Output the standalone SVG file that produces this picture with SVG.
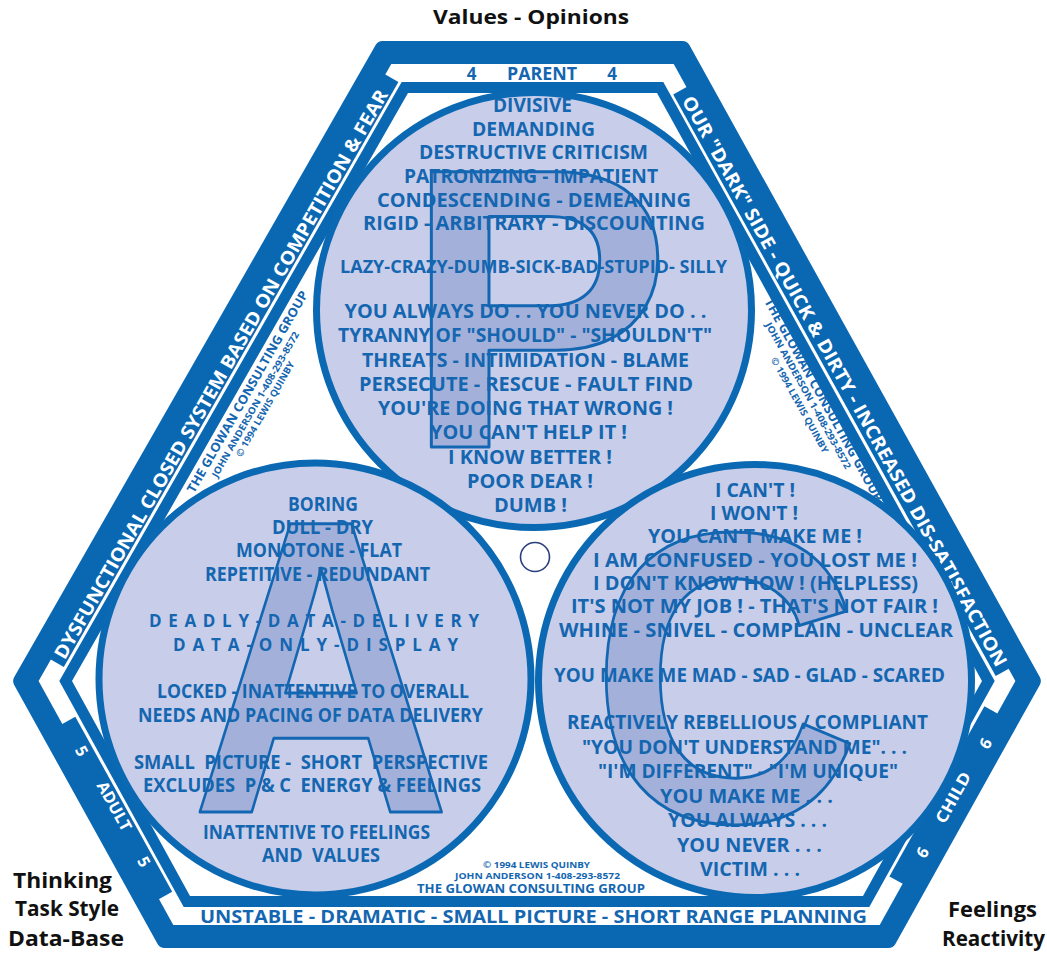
<svg xmlns="http://www.w3.org/2000/svg" width="1047" height="953" viewBox="0 0 1047 953">
<style>
.band{fill:#0a68b3}
.bandr{fill:#0a68b3;stroke:#0a68b3;stroke-width:16;stroke-linejoin:round}
.t{font-family:"Open Sans","Liberation Sans",sans-serif;font-weight:700;fill:#1466b0;text-anchor:middle}
.w{font-family:"Open Sans","Liberation Sans",sans-serif;font-weight:700;fill:#ffffff;text-anchor:middle}
.k{font-family:"Open Sans","Liberation Sans",sans-serif;font-weight:700;fill:#111111}
.circ{fill:#c8cde9;stroke:#0b69b3;stroke-width:7}
.big{font-family:"Liberation Sans",Arial,sans-serif;font-weight:700;fill:#a3b1da;stroke:#1367b2;stroke-width:3;stroke-linejoin:round;text-anchor:middle}
.m{font-size:19.5px}
</style>
<g id="frame">
<path class="bandr" d="M382.6,49 L682.4,49 L1032.8,681 L888.4,940 L164.6,940 L21.2,681 Z"/>
<path fill="#ffffff" d="M391.3,64 L673.7,64 L1015.4,681 L879.7,925 L173.3,925 L38.6,681 Z"/>
<path class="band" d="M48.2,657.9 L63.8,666.9 L398.4,81.9 L382.8,72.9 Z"/>
<path class="band" d="M688.9,85.7 L673.2,94.4 L995.7,675.9 L1011.4,667.2 Z"/>
<path class="band" d="M57.8,726.5 L75.3,716.8 L172.2,891.7 L154.7,901.4 Z"/>
<path class="band" d="M1001.9,715.9 L984.4,706.2 L889.4,876.4 L906.9,886.1 Z"/>
<path class="band" fill-rule="evenodd" d="M401.7,82 L663.3,82 L994.7,681 L869.3,907 L183.7,907 L59.3,681 Z M408,93 L657,93 L982,681 L863,896 L190,896 L72,681 Z"/>
</g>
<g id="connectors"></g>
<g id="edge-labels">
<text class="t" x="471.5" y="80" font-size="17">4</text>
<text class="t" x="542" y="80" font-size="17" textLength="70" lengthAdjust="spacingAndGlyphs">PARENT</text>
<text class="t" x="612" y="80" font-size="17">4</text>
<text class="t" x="533.5" y="923" font-size="18" textLength="667" lengthAdjust="spacingAndGlyphs">UNSTABLE - DRAMATIC - SMALL PICTURE - SHORT RANGE PLANNING</text>
<text class="w" transform="translate(220.9,374.2) rotate(-60.24)" x="0" y="6.6" font-size="18.5" textLength="652" lengthAdjust="spacingAndGlyphs">DYSFUNCTIONAL CLOSED SYSTEM BASED ON COMPETITION &amp; FEAR</text>
<text class="w" transform="translate(844.8,381.1) rotate(60.98)" x="0" y="6.6" font-size="18.5" textLength="649" lengthAdjust="spacingAndGlyphs">OUR "DARK" SIDE - QUICK &amp; DIRTY - INCREASED DIS-SATISFACTION</text>
<text class="w" transform="translate(81.7,751) rotate(61)" x="0" y="5.8" font-size="16">5</text>
<text class="w" transform="translate(114.5,806) rotate(61)" x="0" y="5.8" font-size="16" textLength="54" lengthAdjust="spacingAndGlyphs">ADULT</text>
<text class="w" transform="translate(144.1,861.6) rotate(61)" x="0" y="5.8" font-size="16">5</text>
<text class="w" transform="translate(985.4,743.4) rotate(-60.8)" x="0" y="5.8" font-size="16">6</text>
<text class="w" transform="translate(953,797.4) rotate(-60.8)" x="0" y="5.8" font-size="16" textLength="56" lengthAdjust="spacingAndGlyphs">CHILD</text>
<text class="w" transform="translate(922.3,852.4) rotate(-60.8)" x="0" y="5.8" font-size="16">6</text>
<text class="t" transform="translate(247.3,391.7) rotate(-60.24)" x="0" y="4.5" font-size="12.5" textLength="230" lengthAdjust="spacingAndGlyphs">THE GLOWAN CONSULTING GROUP</text>
<text class="t" transform="translate(255.4,404.4) rotate(-60.24)" x="0" y="3.4" font-size="9.5" textLength="166" lengthAdjust="spacingAndGlyphs">JOHN ANDERSON 1-408-293-8572</text>
<text class="t" transform="translate(265,409.1) rotate(-60.24)" x="0" y="3.4" font-size="9.5" textLength="108" lengthAdjust="spacingAndGlyphs">© 1994 LEWIS QUINBY</text>
<text class="t" transform="translate(823.7,399.7) rotate(60.98)" x="0" y="4.5" font-size="12.5" textLength="230" lengthAdjust="spacingAndGlyphs">THE GLOWAN CONSULTING GROUP</text>
<text class="t" transform="translate(808.3,395.7) rotate(60.98)" x="0" y="3.4" font-size="9.5" textLength="166" lengthAdjust="spacingAndGlyphs">JOHN ANDERSON 1-408-293-8572</text>
<text class="t" transform="translate(799.7,405) rotate(60.98)" x="0" y="3.4" font-size="9.5" textLength="108" lengthAdjust="spacingAndGlyphs">© 1994 LEWIS QUINBY</text>
<text class="t" x="536.5" y="868" font-size="9.5" textLength="107" lengthAdjust="spacingAndGlyphs">© 1994 LEWIS QUINBY</text>
<text class="t" x="537.5" y="879" font-size="9.5" textLength="165" lengthAdjust="spacingAndGlyphs">JOHN ANDERSON 1-408-293-8572</text>
<text class="t" x="531" y="893" font-size="13" textLength="228" lengthAdjust="spacingAndGlyphs">THE GLOWAN CONSULTING GROUP</text>
</g>
<g id="node-parent">
<circle class="circ" cx="534" cy="310" r="217.5"/>
<text class="big" x="538" y="447" font-size="400">P</text>
<text class="t m" x="532.5" y="112" textLength="79" lengthAdjust="spacingAndGlyphs">DIVISIVE</text>
<text class="t m" x="533.5" y="136" textLength="123" lengthAdjust="spacingAndGlyphs">DEMANDING</text>
<text class="t m" x="533.5" y="159" textLength="229" lengthAdjust="spacingAndGlyphs">DESTRUCTIVE CRITICISM</text>
<text class="t m" x="531" y="183" textLength="254" lengthAdjust="spacingAndGlyphs">PATRONIZING - IMPATIENT</text>
<text class="t m" x="534" y="207" textLength="314" lengthAdjust="spacingAndGlyphs">CONDESCENDING - DEMEANING</text>
<text class="t m" x="534" y="230" textLength="342" lengthAdjust="spacingAndGlyphs">RIGID - ARBITRARY - DISCOUNTING</text>
<text class="t" x="533.5" y="273" font-size="18" textLength="387" lengthAdjust="spacingAndGlyphs">LAZY-CRAZY-DUMB-SICK-BAD-STUPID- SILLY</text>
<text class="t m" x="525.5" y="318" textLength="362" lengthAdjust="spacingAndGlyphs">YOU ALWAYS DO . . YOU NEVER DO . .</text>
<text class="t m" x="525" y="342" textLength="374" lengthAdjust="spacingAndGlyphs">TYRANNY OF "SHOULD" - "SHOULDN'T"</text>
<text class="t m" x="525.5" y="367" textLength="327" lengthAdjust="spacingAndGlyphs">THREATS - INTIMIDATION - BLAME</text>
<text class="t m" x="526" y="391" textLength="334" lengthAdjust="spacingAndGlyphs">PERSECUTE - RESCUE - FAULT FIND</text>
<text class="t m" x="525.5" y="415" textLength="295" lengthAdjust="spacingAndGlyphs">YOU'RE DOING THAT WRONG !</text>
<text class="t m" x="528.5" y="439" textLength="197" lengthAdjust="spacingAndGlyphs">YOU CAN'T HELP IT !</text>
<text class="t m" x="530" y="464" textLength="164" lengthAdjust="spacingAndGlyphs">I KNOW BETTER !</text>
<text class="t m" x="530" y="488" textLength="126" lengthAdjust="spacingAndGlyphs">POOR DEAR !</text>
<text class="t m" x="530.5" y="512" textLength="73" lengthAdjust="spacingAndGlyphs">DUMB !</text>
</g>
<g id="node-adult">
<circle class="circ" cx="315" cy="679" r="216"/>
<text class="big" transform="translate(321,812) scale(0.86,1)" x="0" y="0" font-size="419">A</text>
<text class="t m" x="323" y="511" textLength="70" lengthAdjust="spacingAndGlyphs">BORING</text>
<text class="t m" x="322.5" y="534" textLength="101" lengthAdjust="spacingAndGlyphs">DULL - DRY</text>
<text class="t m" x="319" y="557" textLength="166" lengthAdjust="spacingAndGlyphs">MONOTONE - FLAT</text>
<text class="t m" x="317.5" y="581" textLength="225" lengthAdjust="spacingAndGlyphs">REPETITIVE - REDUNDANT</text>
<text class="t" x="314" y="627" font-size="17" textLength="330">DEADLY-DATA-DELIVERY</text>
<text class="t" x="315.5" y="651" font-size="17" textLength="285">DATA-ONLY-DISPLAY</text>
<text class="t m" x="313" y="698" textLength="312" lengthAdjust="spacingAndGlyphs">LOCKED - INATTENTIVE TO OVERALL</text>
<text class="t m" x="310.5" y="722" textLength="345" lengthAdjust="spacingAndGlyphs">NEEDS AND PACING OF DATA DELIVERY</text>
<text class="t m" x="311" y="769" textLength="354" lengthAdjust="spacingAndGlyphs" xml:space="preserve">SMALL  PICTURE -  SHORT  PERSPECTIVE</text>
<text class="t m" x="312" y="792" textLength="338" lengthAdjust="spacingAndGlyphs" xml:space="preserve">EXCLUDES  P &amp; C  ENERGY &amp; FEELINGS</text>
<text class="t m" x="316.5" y="839" textLength="227" lengthAdjust="spacingAndGlyphs">INATTENTIVE TO FEELINGS</text>
<text class="t m" x="321" y="862" textLength="118" lengthAdjust="spacingAndGlyphs" xml:space="preserve">AND  VALUES</text>
</g>
<g id="node-child">
<circle class="circ" cx="755" cy="681" r="216.5"/>
<text class="big" transform="translate(725.5,821) scale(0.9,1)" x="0" y="0" font-size="414">C</text>
<text class="t m" x="755" y="497" textLength="80" lengthAdjust="spacingAndGlyphs">I CAN'T !</text>
<text class="t m" x="754" y="520" textLength="88" lengthAdjust="spacingAndGlyphs">I WON'T !</text>
<text class="t m" x="755" y="543" textLength="214" lengthAdjust="spacingAndGlyphs">YOU CAN'T MAKE ME !</text>
<text class="t m" x="755" y="567" textLength="324" lengthAdjust="spacingAndGlyphs">I AM CONFUSED - YOU LOST ME !</text>
<text class="t m" x="755.5" y="590" textLength="325" lengthAdjust="spacingAndGlyphs">I DON'T KNOW HOW ! (HELPLESS)</text>
<text class="t m" x="754.5" y="613" textLength="367" lengthAdjust="spacingAndGlyphs">IT'S NOT MY JOB ! - THAT'S NOT FAIR !</text>
<text class="t m" x="756" y="637" textLength="394" lengthAdjust="spacingAndGlyphs">WHINE - SNIVEL - COMPLAIN - UNCLEAR</text>
<text class="t m" x="749.5" y="682" textLength="391" lengthAdjust="spacingAndGlyphs">YOU MAKE ME MAD - SAD - GLAD - SCARED</text>
<text class="t m" x="747.5" y="729" textLength="361" lengthAdjust="spacingAndGlyphs">REACTIVELY REBELLIOUS / COMPLIANT</text>
<text class="t m" x="744.5" y="754" textLength="325" lengthAdjust="spacingAndGlyphs">"YOU DON'T UNDERSTAND ME". . .</text>
<text class="t m" x="748" y="778" textLength="300" lengthAdjust="spacingAndGlyphs">"I'M DIFFERENT" - "I'M UNIQUE"</text>
<text class="t m" x="746.5" y="803" textLength="173" lengthAdjust="spacingAndGlyphs">YOU MAKE ME . . .</text>
<text class="t m" x="747.5" y="827" textLength="159" lengthAdjust="spacingAndGlyphs">YOU ALWAYS . . .</text>
<text class="t m" x="749.5" y="852" textLength="145" lengthAdjust="spacingAndGlyphs">YOU NEVER . . .</text>
<text class="t m" x="750" y="876" textLength="100" lengthAdjust="spacingAndGlyphs">VICTIM . . .</text>
</g>
<g id="center-dot">
<circle cx="535" cy="557" r="14.5" fill="#ffffff" stroke="#2b3f7e" stroke-width="1.6"/>
</g>
<g id="corner-labels">
<text class="k" x="433" y="24" font-size="20" textLength="196" lengthAdjust="spacingAndGlyphs">Values - Opinions</text>
<text class="k" x="13" y="888" font-size="21" textLength="99" lengthAdjust="spacingAndGlyphs">Thinking</text>
<text class="k" x="15" y="916" font-size="21" textLength="104" lengthAdjust="spacingAndGlyphs">Task Style</text>
<text class="k" x="8" y="946" font-size="21" textLength="116" lengthAdjust="spacingAndGlyphs">Data-Base</text>
<text class="k" x="948" y="917" font-size="21" textLength="89" lengthAdjust="spacingAndGlyphs">Feelings</text>
<text class="k" x="942" y="946" font-size="21" textLength="103" lengthAdjust="spacingAndGlyphs">Reactivity</text>
</g>
</svg>
